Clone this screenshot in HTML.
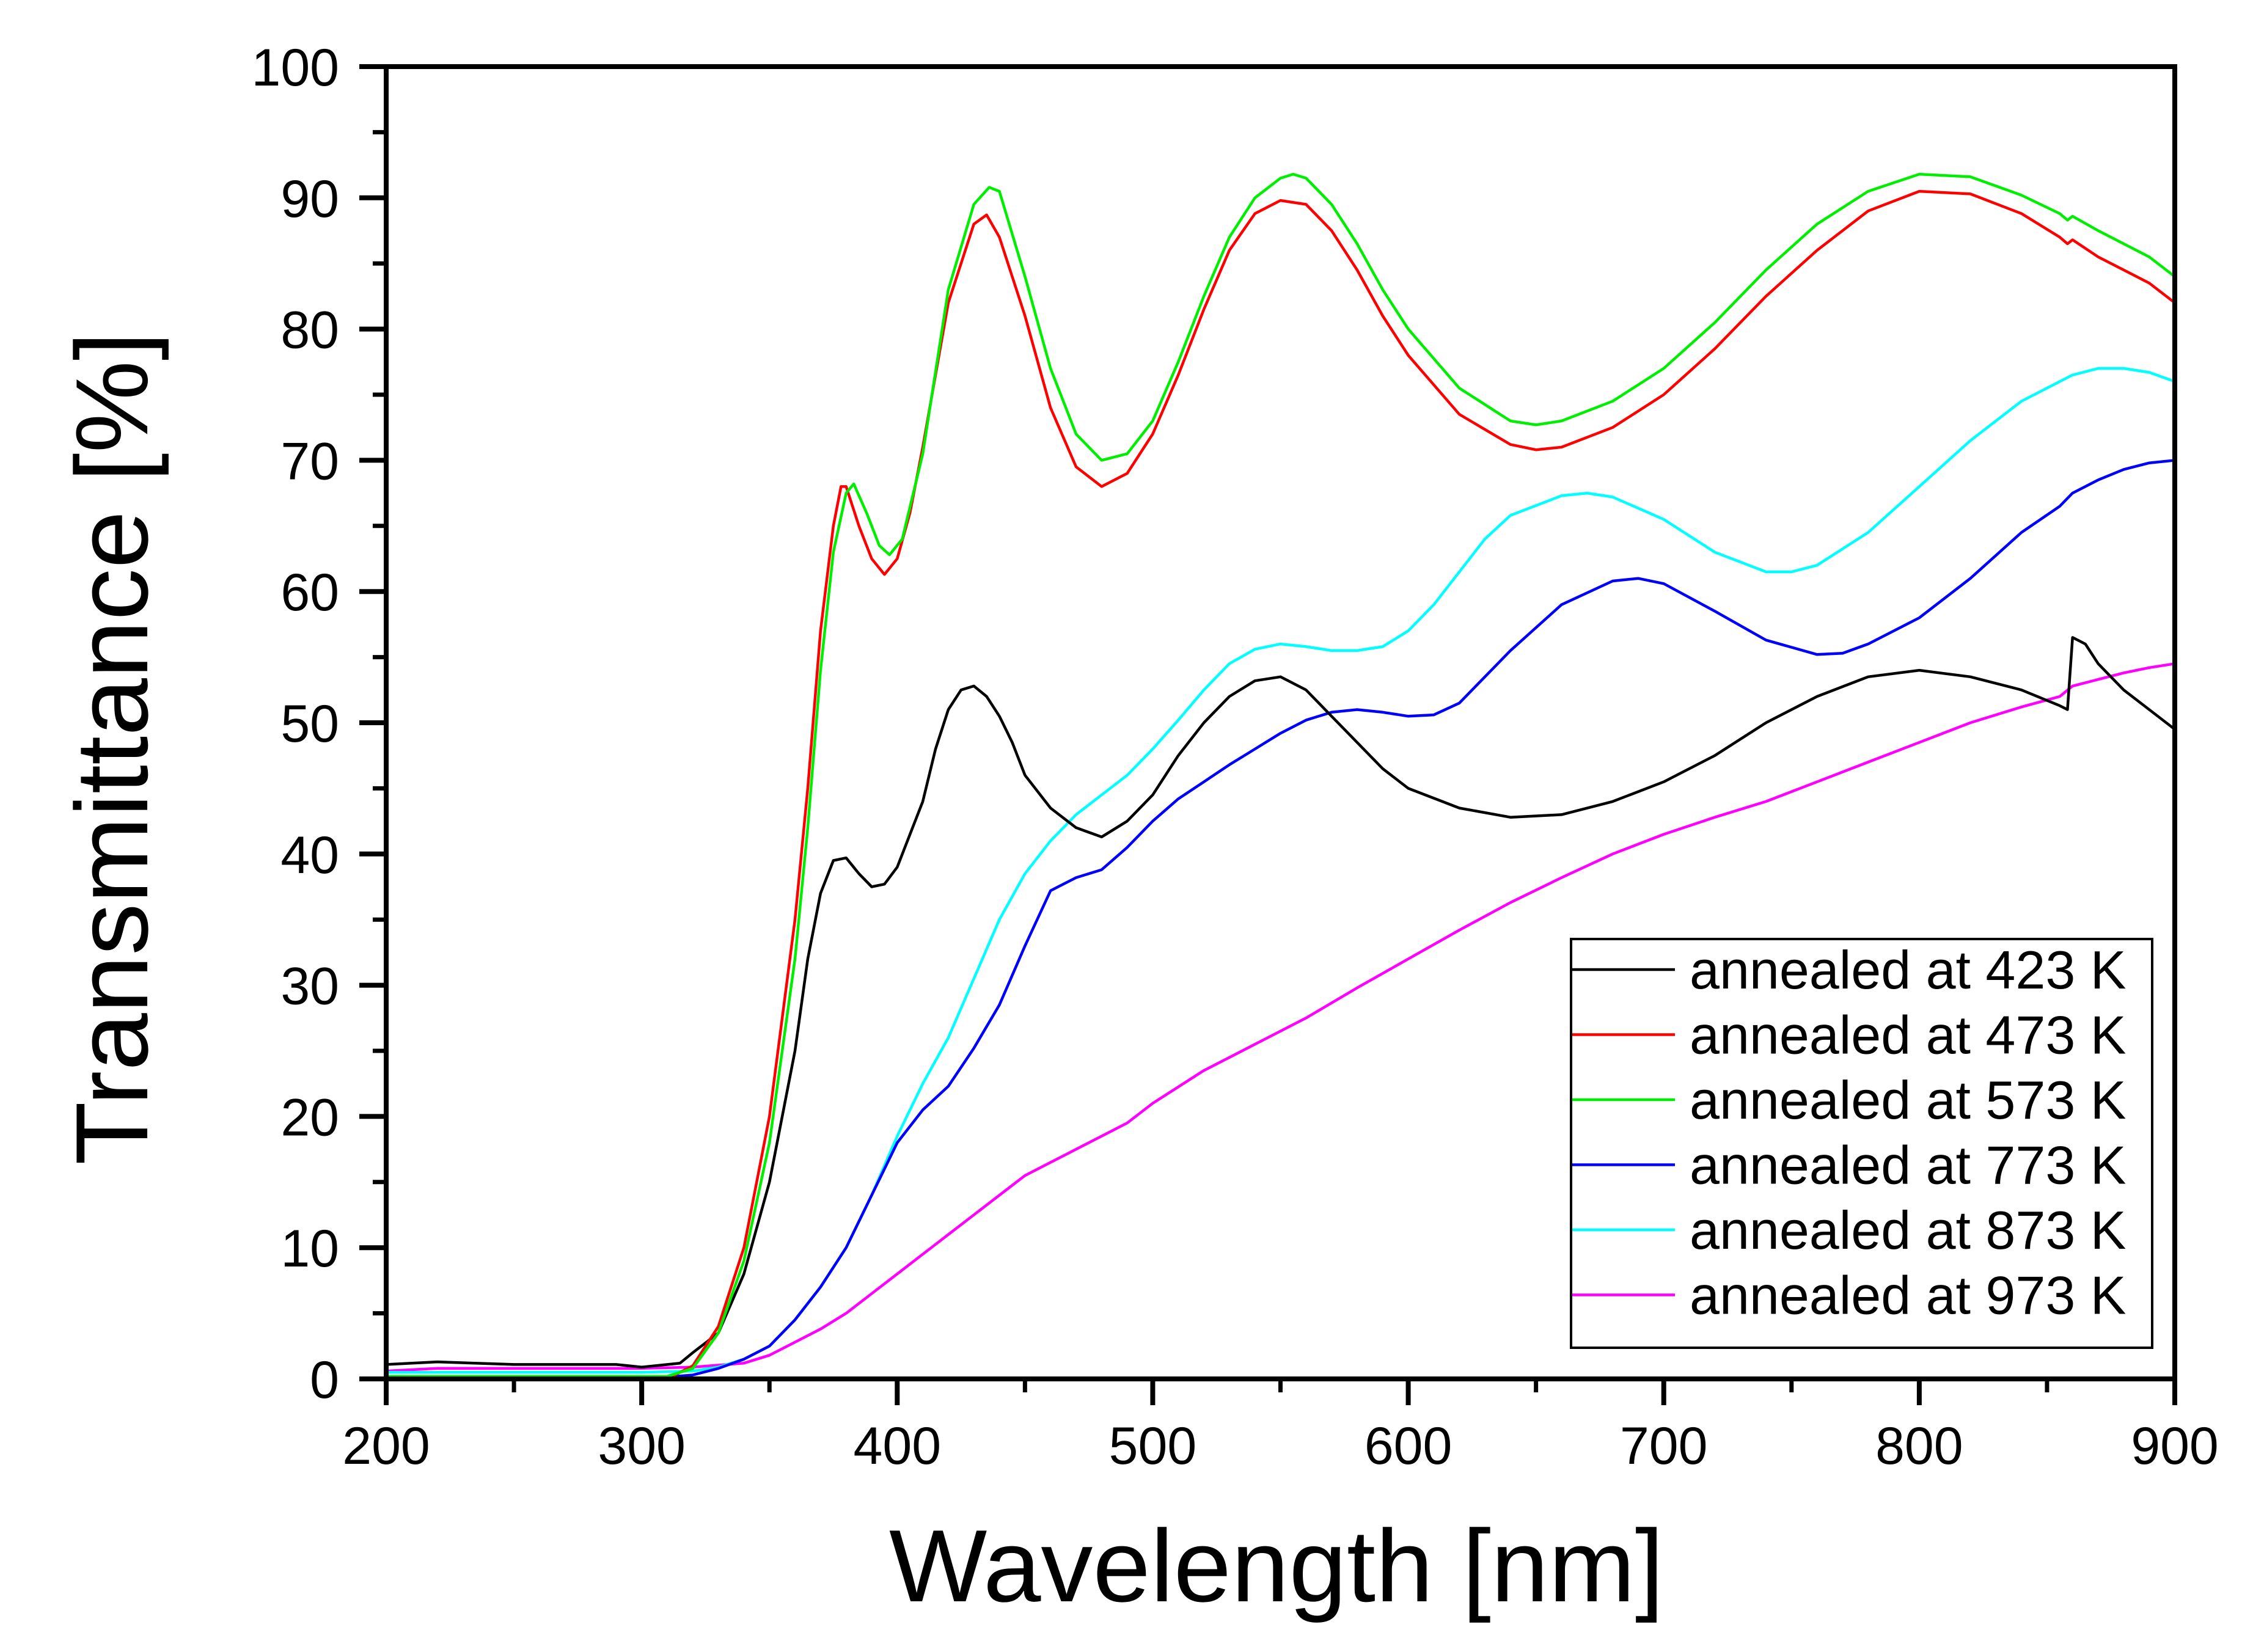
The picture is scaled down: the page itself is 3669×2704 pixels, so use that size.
<!DOCTYPE html>
<html><head><meta charset="utf-8"><style>
html,body{margin:0;padding:0;background:#fff;}
svg{display:block;font-family:"Liberation Sans",Arial,sans-serif;}
</style></head><body>
<svg id="chart" width="3669" height="2704" viewBox="0 0 3669 2704" xmlns="http://www.w3.org/2000/svg">
<rect width="3669" height="2704" fill="#fff"/>
<g id="series"></g>
<g id="axes"></g>
<text x="2089" y="2621" font-size="168" text-anchor="middle" textLength="1268" lengthAdjust="spacingAndGlyphs">Wavelength [nm]</text>
<text transform="translate(241,1225) rotate(-90)" font-size="168" text-anchor="middle" textLength="1364" lengthAdjust="spacingAndGlyphs">Transmittance [%]</text>
<g id="legend"></g>
</svg>
<script>
const xTicks = [200,300,400,500,600,700,800,900];
const yTicks = [0,10,20,30,40,50,60,70,80,90,100];
const seriesNames = ["annealed at 423 K","annealed at 473 K","annealed at 573 K","annealed at 773 K","annealed at 873 K","annealed at 973 K"];
const seriesColors = ["#000000","#ff0000","#00ee00","#0000ff","#00ffff","#ff00ff"];
const wl423 = [200,220,250,290,300,315,320,330,340,350,360,365,370,375,380,385,390,395,400,405,410,415,420,425,430,435,440,445,450,460,470,480,490,500,510,520,530,540,550,560,570,580,590,600,620,640,660,680,700,720,740,760,780,800,820,840,855,858,860,865,870,880,890,900];
const t423 = [1.1,1.3,1.1,1.1,0.9,1.2,2,3.5,8,15,25,32,37,39.5,39.7,38.5,37.5,37.7,39,41.5,44,48,51,52.5,52.8,52,50.5,48.5,46,43.5,42,41.3,42.5,44.5,47.5,50,52,53.2,53.5,52.5,50.5,48.5,46.5,45,43.5,42.8,43,44,45.5,47.5,50,52,53.5,54,53.5,52.5,51.3,51,56.5,56,54.5,52.5,51,49.5];
const wl473 = [200,310,320,330,340,350,360,365,370,375,378,380,385,390,395,400,405,410,420,430,435,440,450,460,470,480,490,500,510,520,530,540,550,560,570,580,590,600,620,640,650,660,680,700,720,740,760,780,800,820,840,855,858,860,870,880,890,900];
const t473 = [0,0,1,4,10,20,35,45,57,65,68,68,65,62.5,61.3,62.5,66,71,82,88,88.7,87,81,74,69.5,68,69,72,76.5,81.5,86,88.8,89.8,89.5,87.5,84.5,81,78,73.5,71.2,70.8,71,72.5,75,78.5,82.5,86,89,90.5,90.3,88.8,87,86.5,86.8,85.5,84.5,83.5,82];
const wl573 = [200,310,320,330,340,350,360,365,370,375,380,383,388,393,397,402,410,420,430,436,440,450,460,470,480,490,500,510,520,530,540,550,555,560,570,580,590,600,620,640,650,660,680,700,720,740,760,780,800,820,840,855,858,860,870,880,890,900];
const t573 = [0.2,0.2,0.8,3.5,9,18,32,42,54,63,67.5,68.2,66,63.5,62.8,64,70.5,83,89.5,90.8,90.5,84,77,72,70,70.5,73,77.5,82.5,87,90,91.5,91.8,91.5,89.5,86.5,83,80,75.5,73,72.7,73,74.5,77,80.5,84.5,88,90.5,91.8,91.6,90.2,88.8,88.3,88.6,87.5,86.5,85.5,84];
const wl773 = [200,300,320,330,340,350,360,370,380,390,400,410,420,430,440,450,460,470,480,490,500,510,520,530,540,550,560,570,580,590,600,610,620,630,640,660,680,690,700,720,740,760,770,780,800,820,840,855,860,870,880,890,900];
const t773 = [0,0,0.3,0.8,1.5,2.5,4.5,7,10,14,18,20.5,22.3,25.2,28.5,33,37.2,38.2,38.8,40.5,42.5,44.2,45.5,46.8,48,49.2,50.2,50.8,51,50.8,50.5,50.6,51.5,53.5,55.5,59,60.8,61,60.6,58.5,56.3,55.2,55.3,56,58,61,64.5,66.5,67.5,68.5,69.3,69.8,70];
const wl873 = [200,300,320,330,340,350,360,370,380,390,400,410,420,430,440,450,460,470,480,490,500,510,520,530,540,550,560,570,580,590,600,610,620,630,640,660,670,680,700,720,740,750,760,780,800,820,840,855,860,870,880,890,900];
const t873 = [0.5,0.5,0.6,0.9,1.5,2.5,4.5,7,10,14,18.5,22.5,26,30.5,35,38.5,41,43,44.5,46,48,50.2,52.5,54.5,55.6,56,55.8,55.5,55.5,55.8,57,59,61.5,64,65.8,67.3,67.5,67.2,65.5,63,61.5,61.5,62,64.5,68,71.5,74.5,76,76.5,77,77,76.7,76];
const wl973 = [200,220,300,320,340,350,360,370,380,390,400,410,420,430,440,450,460,470,480,490,500,520,540,560,580,600,620,640,660,680,700,720,740,760,780,800,820,840,855,860,870,880,890,900];
const t973 = [0.6,0.8,0.8,0.9,1.2,1.8,2.8,3.8,5,6.5,8,9.5,11,12.5,14,15.5,16.5,17.5,18.5,19.5,21,23.5,25.5,27.5,29.8,32,34.2,36.3,38.2,40,41.5,42.8,44,45.5,47,48.5,50,51.2,52,52.8,53.3,53.8,54.2,54.5];

const NS = "http://www.w3.org/2000/svg";
const X0=632, X1=3559, Y0=2257, Y1=109;
const sx = v => X0 + (v-200)/(900-200)*(X1-X0);
const sy = v => Y0 - v/100*(Y0-Y1);
function mk(tag, attrs, parent){const e=document.createElementNS(NS,tag);for(const k in attrs)e.setAttribute(k,attrs[k]);parent.appendChild(e);return e;}

const sg=document.getElementById('series');
const allX=[wl423,wl473,wl573,wl773,wl873,wl973], allY=[t423,t473,t573,t773,t873,t973];
const drawOrder=[5,4,3,0,1,2];
drawOrder.forEach(i=>{
  const d=allX[i].map((w,j)=>(j?'L':'M')+sx(w).toFixed(1)+','+sy(allY[i][j]).toFixed(1)).join(' ');
  const p=mk('path',{d:d,fill:'none',stroke:seriesColors[i],'stroke-width':4.5,'stroke-linejoin':'round'},sg);
  
  
});

const ag=document.getElementById('axes');
const frame=mk('rect',{x:X0,y:Y1,width:X1-X0,height:Y0-Y1,fill:'none',stroke:'#000','stroke-width':8},ag);


xTicks.forEach((t,i)=>{
  const x=sx(t);
  const tk=mk('line',{x1:x,y1:Y0,x2:x,y2:Y0+43,stroke:'#000','stroke-width':8},ag);
  
  
  const lb=mk('text',{x:x,y:2396,'font-size':86,'text-anchor':'middle'},ag);
  lb.textContent=t;
  
  
  if(i<xTicks.length-1){
    const mx=sx(t+50);
    const mt=mk('line',{x1:mx,y1:Y0,x2:mx,y2:Y0+22,stroke:'#000','stroke-width':7},ag);
    
    
  }
});
yTicks.forEach((t,i)=>{
  const y=sy(t);
  const tk=mk('line',{x1:X0-44,y1:y,x2:X0,y2:y,stroke:'#000','stroke-width':8},ag);
  
  
  const lb=mk('text',{x:555,y:y+31,'font-size':86,'text-anchor':'end'},ag);
  lb.textContent=t;
  
  
  if(i<yTicks.length-1){
    const my=sy(t+5);
    const mt=mk('line',{x1:X0-22,y1:my,x2:X0,y2:my,stroke:'#000','stroke-width':7},ag);
    
    
  }
});

const lg=document.getElementById('legend');
const box=mk('rect',{x:2571,y:1537,width:951,height:669,fill:'#fff',stroke:'#000','stroke-width':4},lg);


seriesNames.forEach((n,i)=>{
  const y=1587+i*106.5;
  const ln=mk('line',{x1:2573,y1:y,x2:2741,y2:y,stroke:seriesColors[i],'stroke-width':4.5},lg);
  
  
  const tx=mk('text',{x:2765,y:y+31,'font-size':88},lg);
  tx.textContent=n;
  
  
});
</script>
</body></html>
